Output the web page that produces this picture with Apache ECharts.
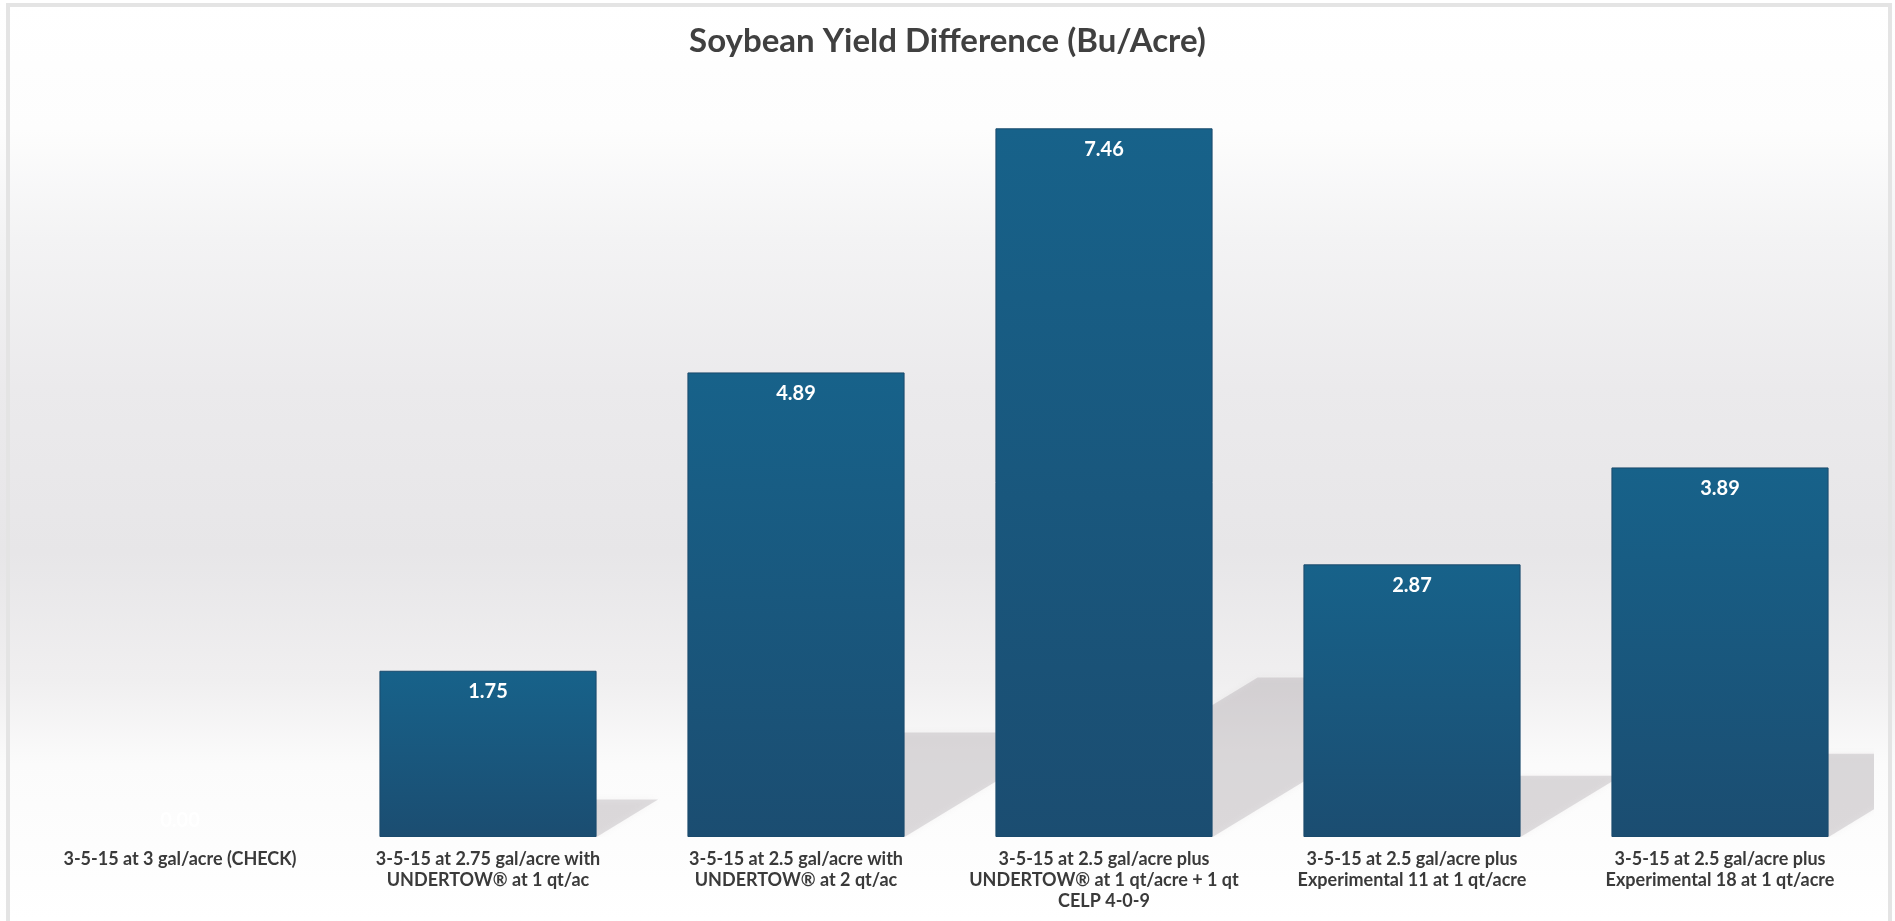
<!DOCTYPE html>
<html>
<head>
<meta charset="utf-8">
<script src="https://cdn.jsdelivr.net/npm/echarts@6/dist/echarts.min.js"></script>
<style>
html,body{margin:0;padding:0;background:#fff;}
#chart{width:1895px;height:921px;}
</style>
</head>
<body>
<div id="chart"></div>
<script>
const titleText = 'Soybean Yield Difference (Bu/Acre)';
const categories = [
  '3-5-15 at 3 gal/acre (CHECK)',
  '3-5-15 at 2.75 gal/acre with\nUNDERTOW® at 1 qt/ac',
  '3-5-15 at 2.5 gal/acre with\nUNDERTOW® at 2 qt/ac',
  '3-5-15 at 2.5 gal/acre plus\nUNDERTOW® at 1 qt/acre + 1 qt\nCELP 4-0-9',
  '3-5-15 at 2.5 gal/acre plus\nExperimental 11 at 1 qt/acre',
  '3-5-15 at 2.5 gal/acre plus\nExperimental 18 at 1 qt/acre'
];
const yieldDiff = [0.00, 1.75, 4.89, 7.46, 2.87, 3.89];

const BAR_RATIO = 0.705;
const chart = echarts.init(document.getElementById('chart'));

const barData = yieldDiff.map(v => v === 0
  ? {value: v, itemStyle: {borderWidth: 0}, label: {position: 'insideBottom', distance: 6}}
  : v);
const shadowData = yieldDiff.map((v, i) => [i, v]);

chart.setOption({
  animation: false,
  backgroundColor: '#ffffff',
  title: {
    text: titleText,
    left: 'center',
    top: 20,
    textStyle: {fontFamily: 'Lato', fontWeight: 'bold', fontSize: 33, color: '#404040'}
  },
  graphic: [
    {
      type: 'rect', z: -20, silent: true,
      shape: {x: 0, y: 0, width: 1895, height: 921},
      style: {
        fill: new echarts.graphic.LinearGradient(0, 0, 0, 1, [
          {offset: 0, color: '#ffffff'},
          {offset: 0.14, color: '#fdfdfd'},
          {offset: 0.26, color: '#f3f3f4'},
          {offset: 0.42, color: '#ebeaec'},
          {offset: 0.6, color: '#e7e6e8'},
          {offset: 0.74, color: '#f0eff0'},
          {offset: 0.83, color: '#fbfbfb'},
          {offset: 1, color: '#ffffff'}
        ])
      }
    },
    {
      type: 'rect', z: -15, silent: true,
      shape: {x: 8, y: 5, width: 1882, height: 925},
      style: {fill: 'none', stroke: '#e4e4e4', lineWidth: 4}
    }
  ],
  grid: {left: 26, right: 21, top: 77, bottom: 84},
  xAxis: {
    type: 'category',
    data: categories,
    axisLine: {show: false},
    axisTick: {show: false},
    axisLabel: {
      interval: 0,
      margin: 12,
      fontFamily: 'Lato',
      fontWeight: 'bold',
      fontSize: 18,
      lineHeight: 21,
      color: '#3a3a3a'
    }
  },
  yAxis: {
    type: 'value',
    min: 0,
    max: 8,
    show: false,
    splitLine: {show: false}
  },
  series: [
    {
      type: 'custom',
      z: 1,
      clip: true,
      data: shadowData,
      encode: {x: 0, y: 1},
      renderItem: function (params, api) {
        const xi = api.value(0), v = api.value(1);
        if (!v) return null;
        const base = api.coord([xi, 0]);
        const top = api.coord([xi, v]);
        const bw = api.size([1, 0])[0] * BAR_RATIO;
        const L = base[0] - bw / 2, R = base[0] + bw / 2, B = base[1];
        const h = B - top[1];
        const dx = 0.37 * h, dy = 0.225 * h;
        return {
          type: 'polygon',
          shape: {points: [[L, B], [R, B], [R + dx, B - dy], [L + dx, B - dy]]},
          style: {
            fill: 'rgba(160,152,158,0.3)',
            shadowBlur: 6,
            shadowColor: 'rgba(160,152,158,0.3)'
          }
        };
      }
    },
    {
      type: 'bar',
      z: 2,
      data: barData,
      barWidth: (BAR_RATIO * 100) + '%',
      itemStyle: {
        color: new echarts.graphic.LinearGradient(0, 0, 0, 1, [
          {offset: 0, color: '#17628a'},
          {offset: 1, color: '#1b4d71'}
        ]),
        borderColor: '#1a4a6c',
        borderWidth: 1
      },
      label: {
        show: true,
        position: 'insideTop',
        distance: 11,
        formatter: p => Number(p.value).toFixed(2),
        color: '#ffffff',
        fontFamily: 'Lato',
        fontWeight: 'bold',
        fontSize: 20
      }
    }
  ]
});
</script>
</body>
</html>
